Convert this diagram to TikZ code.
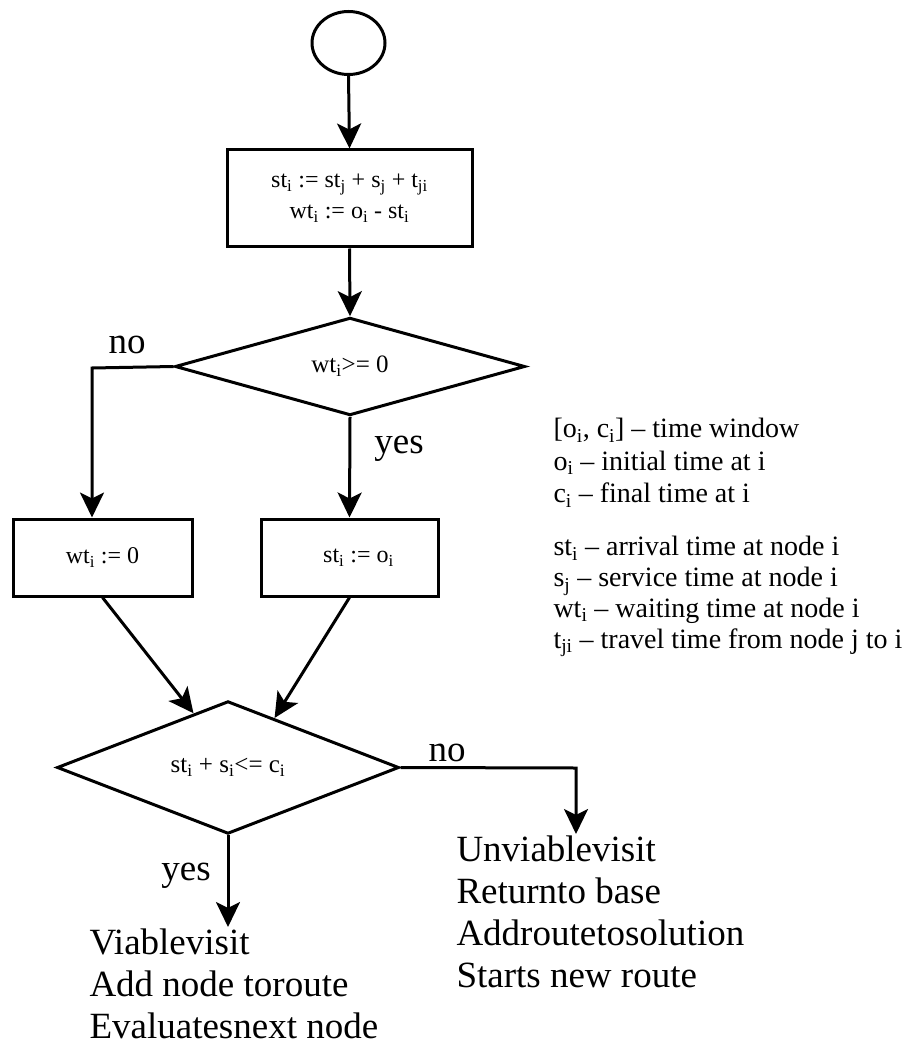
\documentclass[tikz,border=0pt]{standalone}
\usepackage{fontspec}
\setmainfont{Liberation Serif}
\usetikzlibrary{shapes.geometric,arrows.meta,calc}
\newcommand{\sbs}[1]{\textsubscript{#1}}

\begin{document}
\begin{tikzpicture}[x=1pt,y=-1pt,
  line width=3pt,
  flow/.style={-{Stealth[length=25pt,width=24pt,inset=6pt]}},
  procbox/.style={draw, rectangle, inner sep=0pt, align=center,
    font=\fontsize{24}{31}\selectfont},
  decide/.style={draw, diamond, inner sep=0pt,
    font=\fontsize{25}{30}\selectfont},
  lbl/.style={inner sep=0pt, anchor=base, font=\fontsize{37}{43}\selectfont},
  outcome/.style={inner sep=0pt, align=left, anchor=north west,
    font=\fontsize{37}{42}\selectfont},
  legend/.style={inner sep=0pt, align=left, anchor=north west,
    font=\fontsize{28}{32.5}\selectfont},
]
\useasboundingbox (0,0) rectangle (915,1048);

% flow chart nodes
\node[draw, ellipse, minimum width=73pt, minimum height=63pt, inner sep=0pt] (start) at (348.5,43) {};
\node[procbox, minimum width=245pt, minimum height=97pt] (upd) at (349.5,198.5)
  {st\sbs{i} := st\sbs{j} + s\sbs{j} + t\sbs{ji}\\wt\sbs{i} := o\sbs{i} - st\sbs{i}};
\node[decide, minimum width=350pt, minimum height=87pt] (wait) at (350,366.5) {wt\sbs{i}>= 0};
\node[procbox, minimum width=179pt, minimum height=77pt] (zero) at (102.5,557.5) {wt\sbs{i} := 0};
\node[procbox, minimum width=177pt, minimum height=77pt] (open) at (349.5,557.5) {\hspace*{18pt}st\sbs{i} := o\sbs{i}};
\node[decide, minimum width=342pt, minimum height=115pt] (fits) at (228,767.5)
  {st\sbs{i} + s\sbs{i}<= c\sbs{i}};

% outcomes
\node[outcome] (viable) at (88,927) {Viablevisit\\Add node toroute\\Evaluatesnext node};
\node[outcome] (unviable) at (455,834) {Unviablevisit\\Returnto base\\Addroutetosolution\\Starts new route};

% notation
\node[legend] (window) at (552,417)
  {[o\sbs{i}, c\sbs{i}] – time window\\o\sbs{i} – initial time at i\\c\sbs{i} – final time at i};
\node[legend, font=\fontsize{28}{30.7}\selectfont] (vars) at (552,535)
  {st\sbs{i} – arrival time at node i\\s\sbs{j} – service time at node i\\wt\sbs{i} – waiting time at node i\\t\sbs{ji} – travel time from node j to i};

% branch labels
\node[lbl] (no1) at (127,353) {no};
\node[lbl] (yes1) at (399,453) {yes};
\node[lbl] (no2) at (447,761) {no};
\node[lbl] (yes2) at (186,880) {yes};

% connectors
\coordinate (nobend) at (92,368);
\coordinate (nodrop) at (576,768);
\draw[flow] (start.south) -- (upd.north);
\draw[flow] (upd.south) -- (wait.north);
\draw[flow] (wait.west) -- (nobend) -- (nobend |- zero.north);
\draw[flow] (wait.south) -- (open.north);
\draw[flow] (zero.south) -- ($(fits.north)!0.2!(fits.west)$);
\draw[flow] (open.south) -- ($(fits.north)!0.27!(fits.east)$);
\draw[flow] (fits.south) -- (fits.south |- viable.north);
\draw[flow] (fits.east) -- (nodrop) -- (nodrop |- unviable.north);
\end{tikzpicture}
\end{document}
